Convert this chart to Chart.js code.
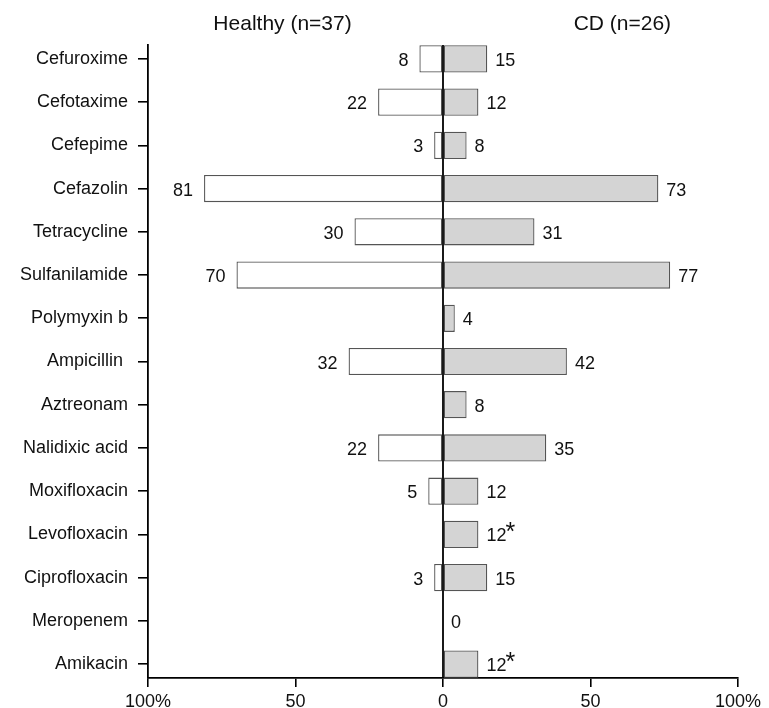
<!DOCTYPE html>
<html>
<head>
<meta charset="utf-8">
<script src="https://cdn.jsdelivr.net/npm/chart.js@4.4.1/dist/chart.umd.min.js"></script>
<style>
  html, body { margin: 0; padding: 0; background: #fff; }
  #wrap { width: 769px; height: 708px; position: relative; }
</style>
</head>
<body>
<div id="wrap"><canvas id="c"></canvas></div>
<script>
const categories = ["Cefuroxime", "Cefotaxime", "Cefepime", "Cefazolin", "Tetracycline", "Sulfanilamide",
  "Polymyxin b", "Ampicillin ", "Aztreonam", "Nalidixic acid", "Moxifloxacin", "Levofloxacin",
  "Ciprofloxacin", "Meropenem", "Amikacin"];
const healthyValues = [8, 22, 3, 81, 30, 70, null, 32, null, 22, 5, null, 3, null, null];
const cdValues = [15, 12, 8, 73, 31, 77, 4, 42, 8, 35, 12, 12, 15, 0, 12];
const cdMarks = ["", "", "", "", "", "", "", "", "", "", "", "*", "", "", "*"];
const groupTitles = ["Healthy (n=37)", "CD (n=26)"];
const xTickValues = [-100, -50, 0, 50, 100];
const xTickLabels = ["100%", "50", "0", "50", "100%"];

const FONT = "'Liberation Sans', Arial, sans-serif";

const healthyData = healthyValues.map((v, i) => ({ x: v == null ? null : -v, y: i }));
const cdData = cdValues.map((v, i) => ({ x: v, y: i }));

const overlay = {
  id: 'overlay',
  afterDatasetsDraw(chart) {
    const ctx = chart.ctx;
    const xs = chart.scales.x;
    const ca = chart.chartArea;
    const x0 = xs.getPixelForValue(0);
    ctx.save();
    // zero line over the bars
    ctx.strokeStyle = '#000';
    ctx.lineWidth = 1.8;
    ctx.beginPath();
    ctx.moveTo(x0, ca.top);
    ctx.lineTo(x0, ca.bottom);
    ctx.stroke();

    ctx.fillStyle = '#111';
    ctx.textBaseline = 'alphabetic';
    // healthy labels
    chart.getDatasetMeta(0).data.forEach((el, i) => {
      const v = healthyValues[i];
      if (v == null) return;
      ctx.font = '18px ' + FONT;
      ctx.textAlign = 'right';
      ctx.fillText(String(v), el.x - 11, el.y + 7);
    });
    // CD labels
    chart.getDatasetMeta(1).data.forEach((el, i) => {
      const v = cdValues[i];
      if (v == null) return;
      ctx.textAlign = 'left';
      ctx.font = '18px ' + FONT;
      const tx = Math.max(el.x, x0) + 8;
      ctx.fillText(String(v), tx, el.y + 7);
      if (cdMarks[i]) {
        const w = ctx.measureText(String(v)).width;
        ctx.font = '25px ' + FONT;
        ctx.fillText(cdMarks[i], tx + w - 1, el.y + 6);
      }
    });
    // group titles
    ctx.font = '21px ' + FONT;
    ctx.textAlign = 'center';
    ctx.fillStyle = '#111';
    ctx.fillText(groupTitles[0], xs.getPixelForValue(-54.4), 30);
    ctx.fillText(groupTitles[1], xs.getPixelForValue(60.8), 30);
    ctx.restore();
  }
};

new Chart(document.getElementById('c'), {
  type: 'bar',
  data: {
    datasets: [
      {
        label: 'Healthy',
        data: healthyData,
        backgroundColor: '#ffffff',
        borderColor: '#555555',
        borderWidth: 1.3,
        borderSkipped: false,
        grouped: false,
        categoryPercentage: 1,
        barPercentage: 0.63
      },
      {
        label: 'CD',
        data: cdData,
        backgroundColor: '#d4d4d4',
        borderColor: '#555555',
        borderWidth: 1.3,
        borderSkipped: false,
        grouped: false,
        categoryPercentage: 1,
        barPercentage: 0.63
      }
    ]
  },
  options: {
    indexAxis: 'y',
    responsive: true,
    maintainAspectRatio: false,
    animation: false,
    layout: { padding: { top: 45, right: 31, bottom: 0, left: 0 } },
    plugins: {
      legend: { display: false },
      tooltip: { enabled: false },
      title: { display: false }
    },
    scales: {
      x: {
        type: 'linear',
        min: -100,
        max: 100,
        afterBuildTicks: (s) => { s.ticks = xTickValues.map(v => ({ value: v })); },
        afterFit: (s) => { s.height = 30; },
        ticks: {
          callback: (v) => xTickLabels[xTickValues.indexOf(v)],
          color: '#111',
          font: { family: FONT, size: 18 },
          padding: 4,
          maxRotation: 0
        },
        grid: { drawOnChartArea: false, tickLength: 9, color: '#000', lineWidth: 1.6 },
        border: { color: '#000', width: 1.8 }
      },
      y: {
        type: 'linear',
        reverse: true,
        offset: false,
        min: -0.32,
        max: 14.32,
        afterBuildTicks: (s) => { s.ticks = categories.map((c, i) => ({ value: i })); },
        afterFit: (s) => { s.width = 148; },
        ticks: {
          callback: (v) => categories[v],
          color: '#111',
          font: { family: FONT, size: 18 },
          padding: 10
        },
        grid: { drawOnChartArea: false, offset: false, tickLength: 10, color: '#000', lineWidth: 1.6 },
        border: { color: '#000', width: 1.8 }
      }
    }
  },
  plugins: [overlay]
});
</script>
</body>
</html>
